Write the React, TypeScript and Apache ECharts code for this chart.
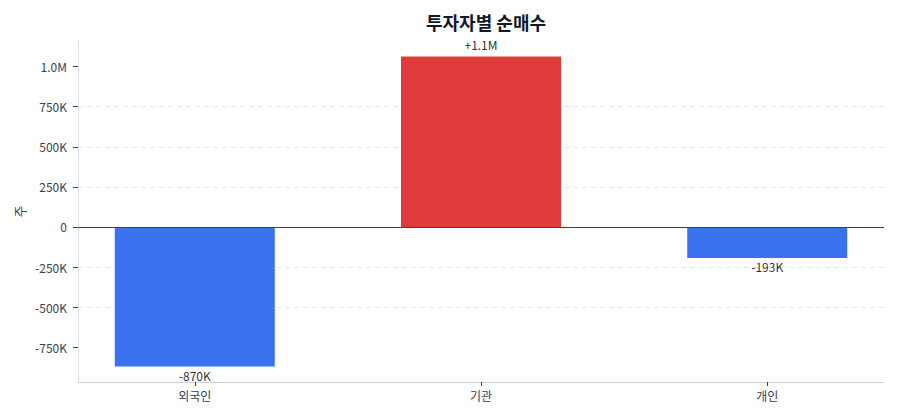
import React, { useEffect, useRef } from 'react';
import * as echarts from 'echarts';

const categories = ['외국인', '기관', '개인'];
const netBuy = [-870000, 1063000, -193000];
const yTicks = [-750000, -500000, -250000, 0, 250000, 500000, 750000, 1000000];
const xTicks = [0, 1, 2];

const FONT = '"Noto Sans CJK KR", "Noto Sans", sans-serif';

const fmtTick = (v: number) => {
  if (v === 0) return '0';
  if (Math.abs(v) >= 1e6) return (v / 1e6).toFixed(1) + 'M';
  return Math.round(v / 1e3) + 'K';
};

const fmtBar = (v: number) => {
  const sign = v > 0 ? '+' : '';
  if (Math.abs(v) >= 1e6) return sign + (v / 1e6).toFixed(1) + 'M';
  return sign + Math.round(v / 1e3) + 'K';
};

const App = () => {
  const ref = useRef<HTMLDivElement>(null);

  useEffect(() => {
    if (!ref.current) return;
    const chart = echarts.init(ref.current, null, { renderer: 'svg' });

    // matplotlib-like 5% margins around the data
    const lo = Math.min(0, ...netBuy);
    const hi = Math.max(0, ...netBuy);
    const pad = (hi - lo) * 0.05;
    const barW = 0.56;
    const xPad = (2 + barW) * 0.05;

    const option: echarts.EChartsOption = {
      animation: false,
      textStyle: { fontFamily: FONT },
      title: {
        text: '투자자별 순매수',
        left: 473,
        textAlign: 'center',
        top: 0,
        textStyle: { fontSize: 18, fontWeight: 'bold', color: '#111827', fontFamily: FONT },
      },
      grid: { left: 70, right: 8, top: 33, bottom: 30, outerBoundsMode: 'none' } as any,
      xAxis: {
        type: 'value',
        min: -barW / 2 - xPad,
        max: 2 + barW / 2 + xPad,
        axisLine: { show: true, onZero: false, lineStyle: { color: '#cbd0dc' } },
        axisTick: { show: true, customValues: xTicks, length: 4, lineStyle: { color: '#374151' } },
        axisLabel: {
          customValues: xTicks,
          formatter: (v: number) => categories[Math.round(v)] ?? '',
          color: '#374151',
          fontSize: 12,
          margin: 7,
        },
        splitLine: { show: false },
      },
      yAxis: {
        type: 'value',
        min: lo - pad,
        max: hi + pad,
        name: '주',
        nameLocation: 'middle',
        nameGap: 52,
        nameMoveOverlap: false,
        nameTextStyle: { color: '#374151', fontSize: 13 },
        axisLine: { show: true, onZero: false, lineStyle: { color: '#dde1e8' } },
        axisTick: { show: true, customValues: yTicks, length: 5, lineStyle: { color: '#374151' } },
        axisLabel: {
          customValues: yTicks,
          formatter: fmtTick,
          color: '#374151',
          fontSize: 12,
          margin: 11,
        },
        splitLine: {
          show: true,
          showMinLine: false,
          showMaxLine: false,
          lineStyle: { color: '#e5e7eb', type: [5, 4] },
        },
      } as any,
      series: [
        {
          type: 'bar',
          barWidth: 160,
          data: netBuy.map((v, i) => ({
            value: [i, v],
            itemStyle: { color: v >= 0 ? '#dc2626' : '#2563eb', opacity: 0.9 },
            label: { position: v >= 0 ? 'top' : 'bottom', distance: v >= 0 ? 6 : 3 },
          })),
          label: {
            show: true,
            color: '#111111',
            fontSize: 12,
            formatter: (p: any) => fmtBar(p.value[1]),
          },
          markLine: {
            silent: true,
            symbol: 'none',
            label: { show: false },
            lineStyle: { color: '#374151', type: 'solid', width: 1.2 },
            data: [{ yAxis: 0 }],
          },
        },
      ],
    };
    chart.setOption(option);
    return () => chart.dispose();
  }, []);

  return <div ref={ref} style={{ width: 884, height: 404 }} />;
};

export default App;
